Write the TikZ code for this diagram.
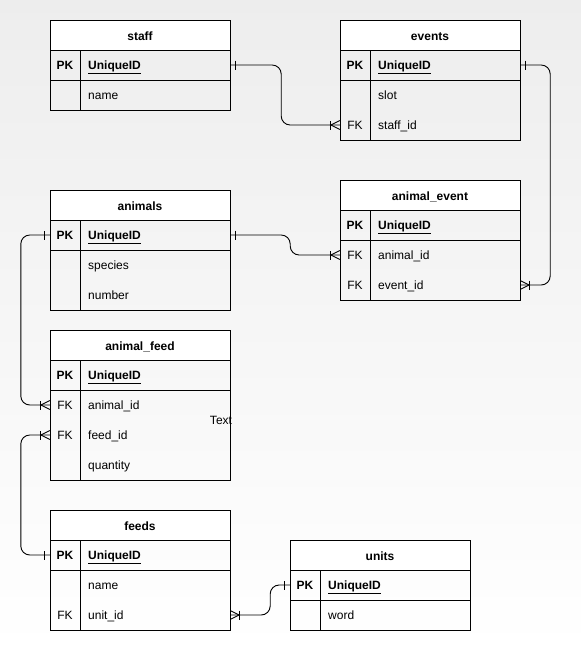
\documentclass[tikz,border=0pt]{standalone}
\usepackage{fontspec}
\setmainfont{Liberation Sans}
\usetikzlibrary{calc}

% one unit = one pixel, y grows downward
\tikzset{
  x=1pt, y=-1pt,
  tblline/.style={draw=black, line width=1pt},
  tblhead/.style={rectangle, fill=white, minimum width=180pt, minimum height=30pt,
                  inner sep=0pt},
  titletxt/.style={anchor=base, inner sep=0pt, font=\fontsize{12}{14}\selectfont\bfseries},
  rowbox/.style={rectangle, minimum width=180pt, minimum height=30pt, inner sep=0pt},
  keytxt/.style={anchor=base, inner sep=0pt, font=\fontsize{12}{14}\selectfont},
  fieldtxt/.style={anchor=base west, inner sep=0pt, font=\fontsize{12}{14}\selectfont},
  rel/.style={draw=black, line width=0.9pt, rounded corners=9pt},
  endmark/.style={draw=black, line width=0.9pt},
  one/.pic={\draw[endmark] (5,-4.5) -- (5,4.5);},
  many/.pic={\draw[endmark] (0,-4.5) -- (9,0) -- (0,4.5);
             \draw[endmark] (9,-4.5) -- (9,4.5);},
}

% table frame: name, left x, top y, number of rows, title
\newcommand\ertable[5]{%
  \node[tblhead] (#1) at (#2+90,#3+15) {};
  \node[titletxt] (#1-title) at (#2+90,#3+20) {#5};
  \draw[tblline] (#2,#3) rectangle (#2+180,#3+30+30*#4);
  \draw[tblline] (#2,#3+30) -- (#2+180,#3+30);
  \draw[tblline] (#2,#3+60) -- (#2+180,#3+60);
  \draw[tblline] (#2+30,#3+30) -- (#2+30,#3+30+30*#4);
}
% table row: name, left x, centre y, key text, field text
\newcommand\errow[5]{%
  \node[rowbox] (#1) at (#2+90,#3) {};
  \node[keytxt] (#1-k) at (#2+15,#3+4.5) {#4};
  \node[fieldtxt] (#1-f) at (#2+38,#3+4.5) {#5};
}
\newcommand\pkfield{\underline{UniqueID}}

\begin{document}
\begin{tikzpicture}
  \shade[top color=black!7, bottom color=white] (0,0) rectangle (581,651);
  \useasboundingbox (0,0) rectangle (581,651);

  % staff
  \ertable{staff}{50}{20}{2}{staff}
  \errow{staff-pk}{50}{65}{\textbf{PK}}{\textbf{\pkfield}}
  \errow{staff-name}{50}{95}{}{name}

  % events
  \ertable{events}{340}{20}{3}{events}
  \errow{events-pk}{340}{65}{\textbf{PK}}{\textbf{\pkfield}}
  \errow{events-slot}{340}{95}{}{slot}
  \errow{events-staff}{340}{125}{FK}{staff\_id}

  % animals
  \ertable{animals}{50}{190}{3}{animals}
  \errow{animals-pk}{50}{235}{\textbf{PK}}{\textbf{\pkfield}}
  \errow{animals-species}{50}{265}{}{species}
  \errow{animals-number}{50}{295}{}{number}

  % animal_event
  \ertable{animalevent}{340}{180}{3}{animal\_event}
  \errow{ae-pk}{340}{225}{\textbf{PK}}{\textbf{\pkfield}}
  \errow{ae-animal}{340}{255}{FK}{animal\_id}
  \errow{ae-event}{340}{285}{FK}{event\_id}

  % animal_feed
  \ertable{animalfeed}{50}{330}{4}{animal\_feed}
  \errow{af-pk}{50}{375}{\textbf{PK}}{\textbf{\pkfield}}
  \errow{af-animal}{50}{405}{FK}{animal\_id}
  \errow{af-feed}{50}{435}{FK}{feed\_id}
  \errow{af-qty}{50}{465}{}{quantity}

  % feeds
  \ertable{feeds}{50}{510}{3}{feeds}
  \errow{feeds-pk}{50}{555}{\textbf{PK}}{\textbf{\pkfield}}
  \errow{feeds-name}{50}{585}{}{name}
  \errow{feeds-unit}{50}{615}{FK}{unit\_id}

  % units
  \ertable{units}{290}{540}{2}{units}
  \errow{units-pk}{290}{585}{\textbf{PK}}{\textbf{\pkfield}}
  \errow{units-word}{290}{615}{}{word}

  % loose label
  \node[keytxt] (freetext) at (221,424.5) {Text};

  % relationships
  \draw[rel] (staff-pk.east) -- ++(51,0) |- (events-staff.west);
  \pic at (staff-pk.east) {one};
  \pic[rotate=180] at (events-staff.west) {many};

  \draw[rel] (events-pk.east) -- ++(30,0) |- (ae-event.east);
  \pic at (events-pk.east) {one};
  \pic at (ae-event.east) {many};

  \draw[rel] (animals-pk.east) -- ++(60,0) |- (ae-animal.west);
  \pic at (animals-pk.east) {one};
  \pic[rotate=180] at (ae-animal.west) {many};

  \draw[rel] (animals-pk.west) -- ++(-29,0) |- (af-animal.west);
  \pic[rotate=180] at (animals-pk.west) {one};
  \pic[rotate=180] at (af-animal.west) {many};

  \draw[rel] (af-feed.west) -- ++(-29,0) |- (feeds-pk.west);
  \pic[rotate=180] at (af-feed.west) {many};
  \pic[rotate=180] at (feeds-pk.west) {one};

  \draw[rel] (feeds-unit.east) -- ++(40,0) |- (units-pk.west);
  \pic at (feeds-unit.east) {many};
  \pic[rotate=180] at (units-pk.west) {one};
\end{tikzpicture}
\end{document}
